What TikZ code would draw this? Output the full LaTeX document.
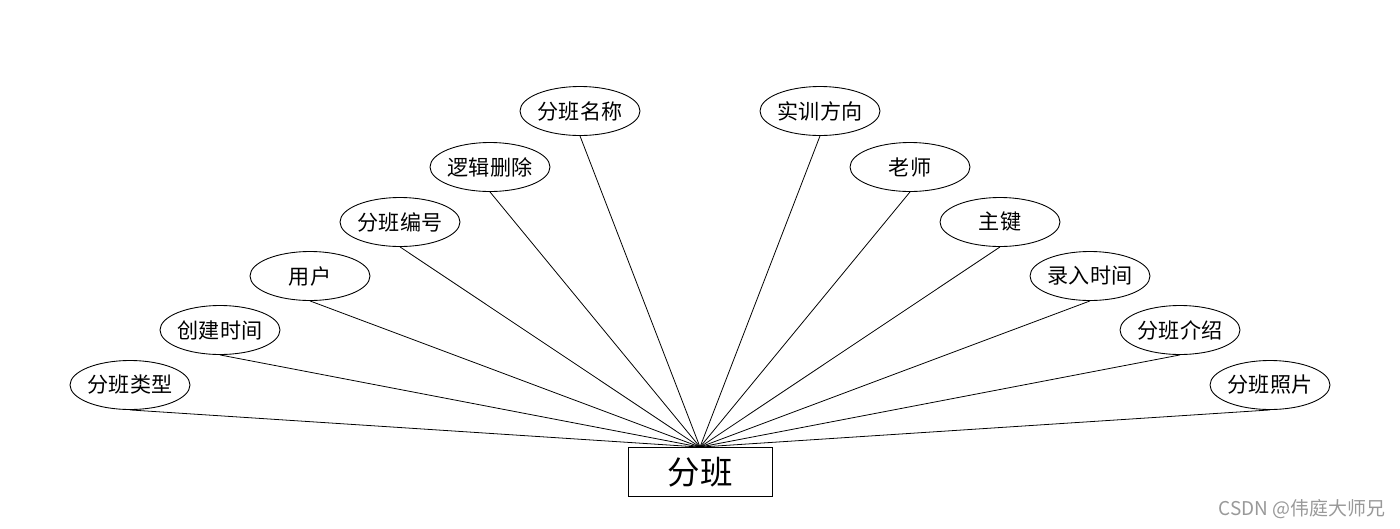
\documentclass[tikz,border=0pt]{standalone}
\usepackage{fontspec}
\setmainfont{Noto Sans CJK SC}
\usepackage{tikz}
\usetikzlibrary{shapes.geometric, positioning}

\begin{document}
\begin{tikzpicture}[
  x=0.02cm, y=-0.02cm,
  attr/.style={draw, ellipse, line width=0.5pt, minimum width=2.4cm, minimum height=0.98cm, inner sep=0pt, font=\fontsize{12}{12}\selectfont},
  entity/.style={draw, rectangle, line width=0.5pt, minimum width=2.88cm, minimum height=0.98cm, inner sep=0pt, font=\fontsize{18.5}{18.5}\selectfont},
  link/.style={line width=0.45pt}
]
  \useasboundingbox (0,0) rectangle (1400,528);

  % entity
  \node[entity] (fenban) at (700,472) {分班};

  % attributes, left side
  \node[attr] (leixing) at (130,385) {分班类型};
  \node[attr] (chuangjian) at (220,330) {创建时间};
  \node[attr] (yonghu) at (310,276) {用户};
  \node[attr] (bianhao) at (400,222) {分班编号};
  \node[attr] (shanchu) at (490,167) {逻辑删除};
  \node[attr] (mingcheng) at (580,111) {分班名称};

  % attributes, right side
  \node[attr] (fangxiang) at (820,111) {实训方向};
  \node[attr] (laoshi) at (910,167) {老师};
  \node[attr] (zhujian) at (1000,222) {主键};
  \node[attr] (luru) at (1090,276) {录入时间};
  \node[attr] (jieshao) at (1180,330) {分班介绍};
  \node[attr] (zhaopian) at (1270,385) {分班照片};

  % links
  \foreach \a in {leixing, chuangjian, yonghu, bianhao, shanchu, mingcheng,
                  fangxiang, laoshi, zhujian, luru, jieshao, zhaopian}
    \draw[link] (\a.south) -- (fenban.north);

  \node[text=black!40, font=\fontsize{10.8}{10.8}\selectfont, anchor=east, inner sep=0pt] (mark) at (1386,509) {CSDN @伟庭大师兄};
\end{tikzpicture}
\end{document}
